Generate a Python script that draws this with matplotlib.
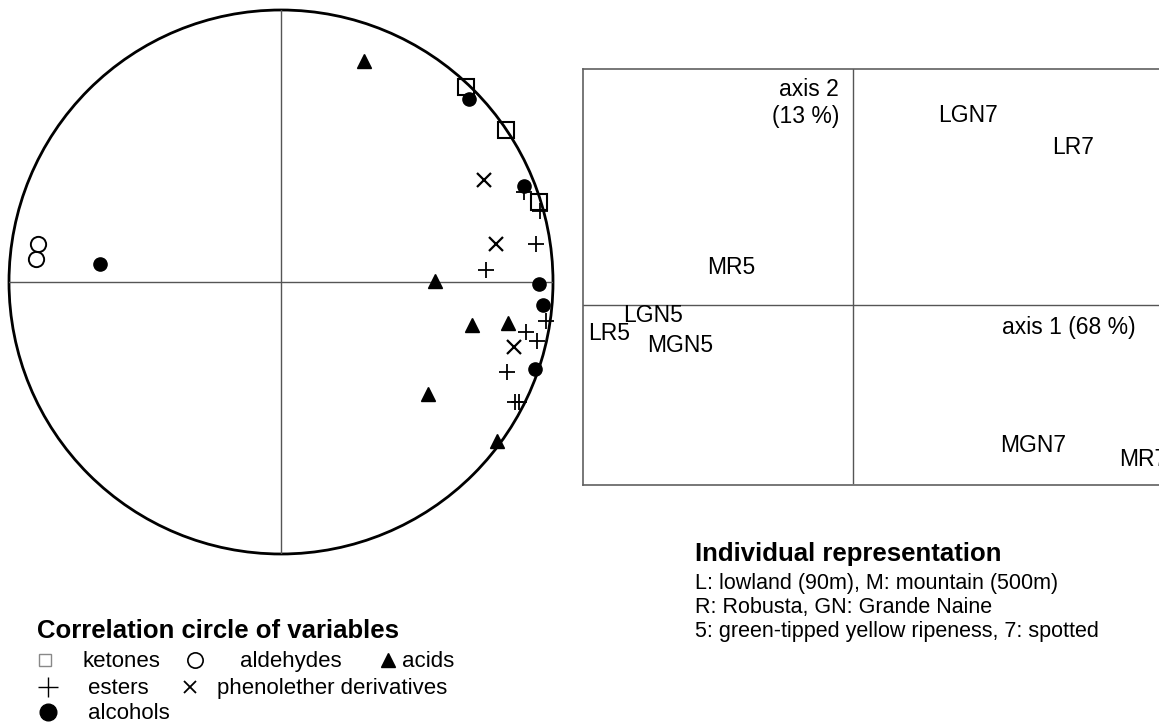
import matplotlib.pyplot as plt
from matplotlib.patches import Circle
from matplotlib.lines import Line2D

plt.rcParams['font.family'] = ['Liberation Sans', 'DejaVu Sans']

# correlation circle: variable coordinates on axis 1 / axis 2
ketones_x = [0.680, 0.827, 0.949]
ketones_y = [0.717, 0.559, 0.294]
aldehydes_x = [-0.893, -0.901]
aldehydes_y = [0.140, 0.085]
acids_x = [0.305, 0.566, 0.702, 0.835, 0.540, 0.794]
acids_y = [0.813, 0.004, -0.158, -0.151, -0.412, -0.585]
esters_x = [0.754, 0.938, 0.893, 0.952, 0.974, 0.901, 0.941, 0.831, 0.860, 0.875]
esters_y = [0.044, 0.140, 0.331, 0.261, -0.143, -0.184, -0.217, -0.331, -0.441, -0.441]
phenol_x = [0.746, 0.790, 0.857]
phenol_y = [0.375, 0.140, -0.239]
alcohols_x = [-0.665, 0.691, 0.893, 0.949, 0.963, 0.934]
alcohols_y = [0.066, 0.673, 0.353, -0.007, -0.085, -0.320]

# individuals
ind_names = ['LGN7', 'LR7', 'MR5', 'LGN5', 'LR5', 'MGN5', 'MGN7', 'MR7']
ind_axis1 = [0.85, 1.99, -1.46, -2.30, -2.65, -2.06, 1.47, 2.66]
ind_axis2 = [1.90, 1.58, 0.38, -0.10, -0.28, -0.40, -1.41, -1.54]

W, H = 1159, 724
fig = plt.figure(figsize=(W / 100, H / 100), dpi=100)


def box(left, top, width, height):
    return [left / W, 1 - (top + height) / H, width / W, height / H]


def ftext(x, y, s, **kw):
    fig.text(x / W, 1 - y / H, s, **kw)


def fmark(x, y, marker, **kw):
    fig.add_artist(Line2D([x / W], [1 - y / H], marker=marker, linestyle='none',
                          transform=fig.transFigure, **kw))


# ---- correlation circle
ax = fig.add_axes(box(9, 10, 544, 544))
ax.set_xlim(-1, 1)
ax.set_ylim(-1, 1)
ax.axis('off')
ax.add_patch(Circle((0, 0), 1, fill=False, lw=2, ec='black', clip_on=False))
ax.plot([-1, 1], [0, 0], color='#555555', lw=1, zorder=1)
ax.plot([0, 0], [-1, 1], color='#555555', lw=1, zorder=1)

ax.plot(ketones_x, ketones_y, 's', ms=12, mfc='none', mec='black', mew=1.5, clip_on=False)
ax.plot(aldehydes_x, aldehydes_y, 'o', ms=11, mfc='none', mec='black', mew=1.4, clip_on=False)
ax.plot(acids_x, acids_y, '^', ms=10, color='black', clip_on=False)
ax.plot(esters_x, esters_y, '+', ms=12, color='black', mew=1.3, clip_on=False)
ax.plot(phenol_x, phenol_y, 'x', ms=10, color='black', mew=1.6, clip_on=False)
ax.plot(alcohols_x, alcohols_y, 'o', ms=9.5, color='black', clip_on=False)

# ---- individual representation
ax2 = fig.add_axes(box(583, 69, 592, 416))
ax2.set_xlim(-2.70, 3.22)
ax2.set_ylim(-1.80, 2.36)
ax2.set_xticks([])
ax2.set_yticks([])
for sp in ax2.spines.values():
    sp.set_color('#606060')
    sp.set_linewidth(1.2)
ax2.axhline(0, color='#555555', lw=1)
ax2.plot([0, 0], [-1.78, 2.36], color='#555555', lw=1)
for name, x, y in zip(ind_names, ind_axis1, ind_axis2):
    ax2.text(x, y, name, ha='left', va='center', fontsize=16.5, clip_on=False)
ax2.text(-0.14, 2.02, 'axis 2\n(13 %)', ha='right', va='center',
         multialignment='right', fontsize=16.5, linespacing=1.25)
ax2.text(1.49, -0.22, 'axis 1 (68 %)', ha='left', va='center', fontsize=16.5)

# ---- legends
ftext(695, 561, 'Individual representation', fontsize=18.5, weight='bold', va='baseline')
ftext(695, 589, 'L: lowland (90m), M: mountain (500m)', fontsize=15.5, va='baseline')
ftext(695, 613, 'R: Robusta, GN: Grande Naine', fontsize=15.5, va='baseline')
ftext(695, 637, '5: green-tipped yellow ripeness, 7: spotted', fontsize=15.5, va='baseline')

ftext(37, 638, 'Correlation circle of variables', fontsize=18.5, weight='bold', va='baseline')
fmark(45, 660, 's', ms=9, mfc='none', mec='#888888', mew=1)
ftext(83, 667, 'ketones', fontsize=16, va='baseline')
fmark(195, 660, 'o', ms=11, mfc='none', mec='black', mew=1.2)
ftext(240, 667, 'aldehydes', fontsize=16, va='baseline')
fmark(388, 660, '^', ms=10, color='black')
ftext(402, 667, 'acids', fontsize=16, va='baseline')
fmark(48, 687, '+', ms=15, color='black', mew=1)
ftext(88, 694, 'esters', fontsize=16, va='baseline')
fmark(190, 687, 'x', ms=9, color='black', mew=1.3)
ftext(217, 694, 'phenolether derivatives', fontsize=16, va='baseline')
fmark(48, 712, 'o', ms=12, color='black')
ftext(88, 719, 'alcohols', fontsize=16, va='baseline')

fig.savefig('out.png', dpi=100)
